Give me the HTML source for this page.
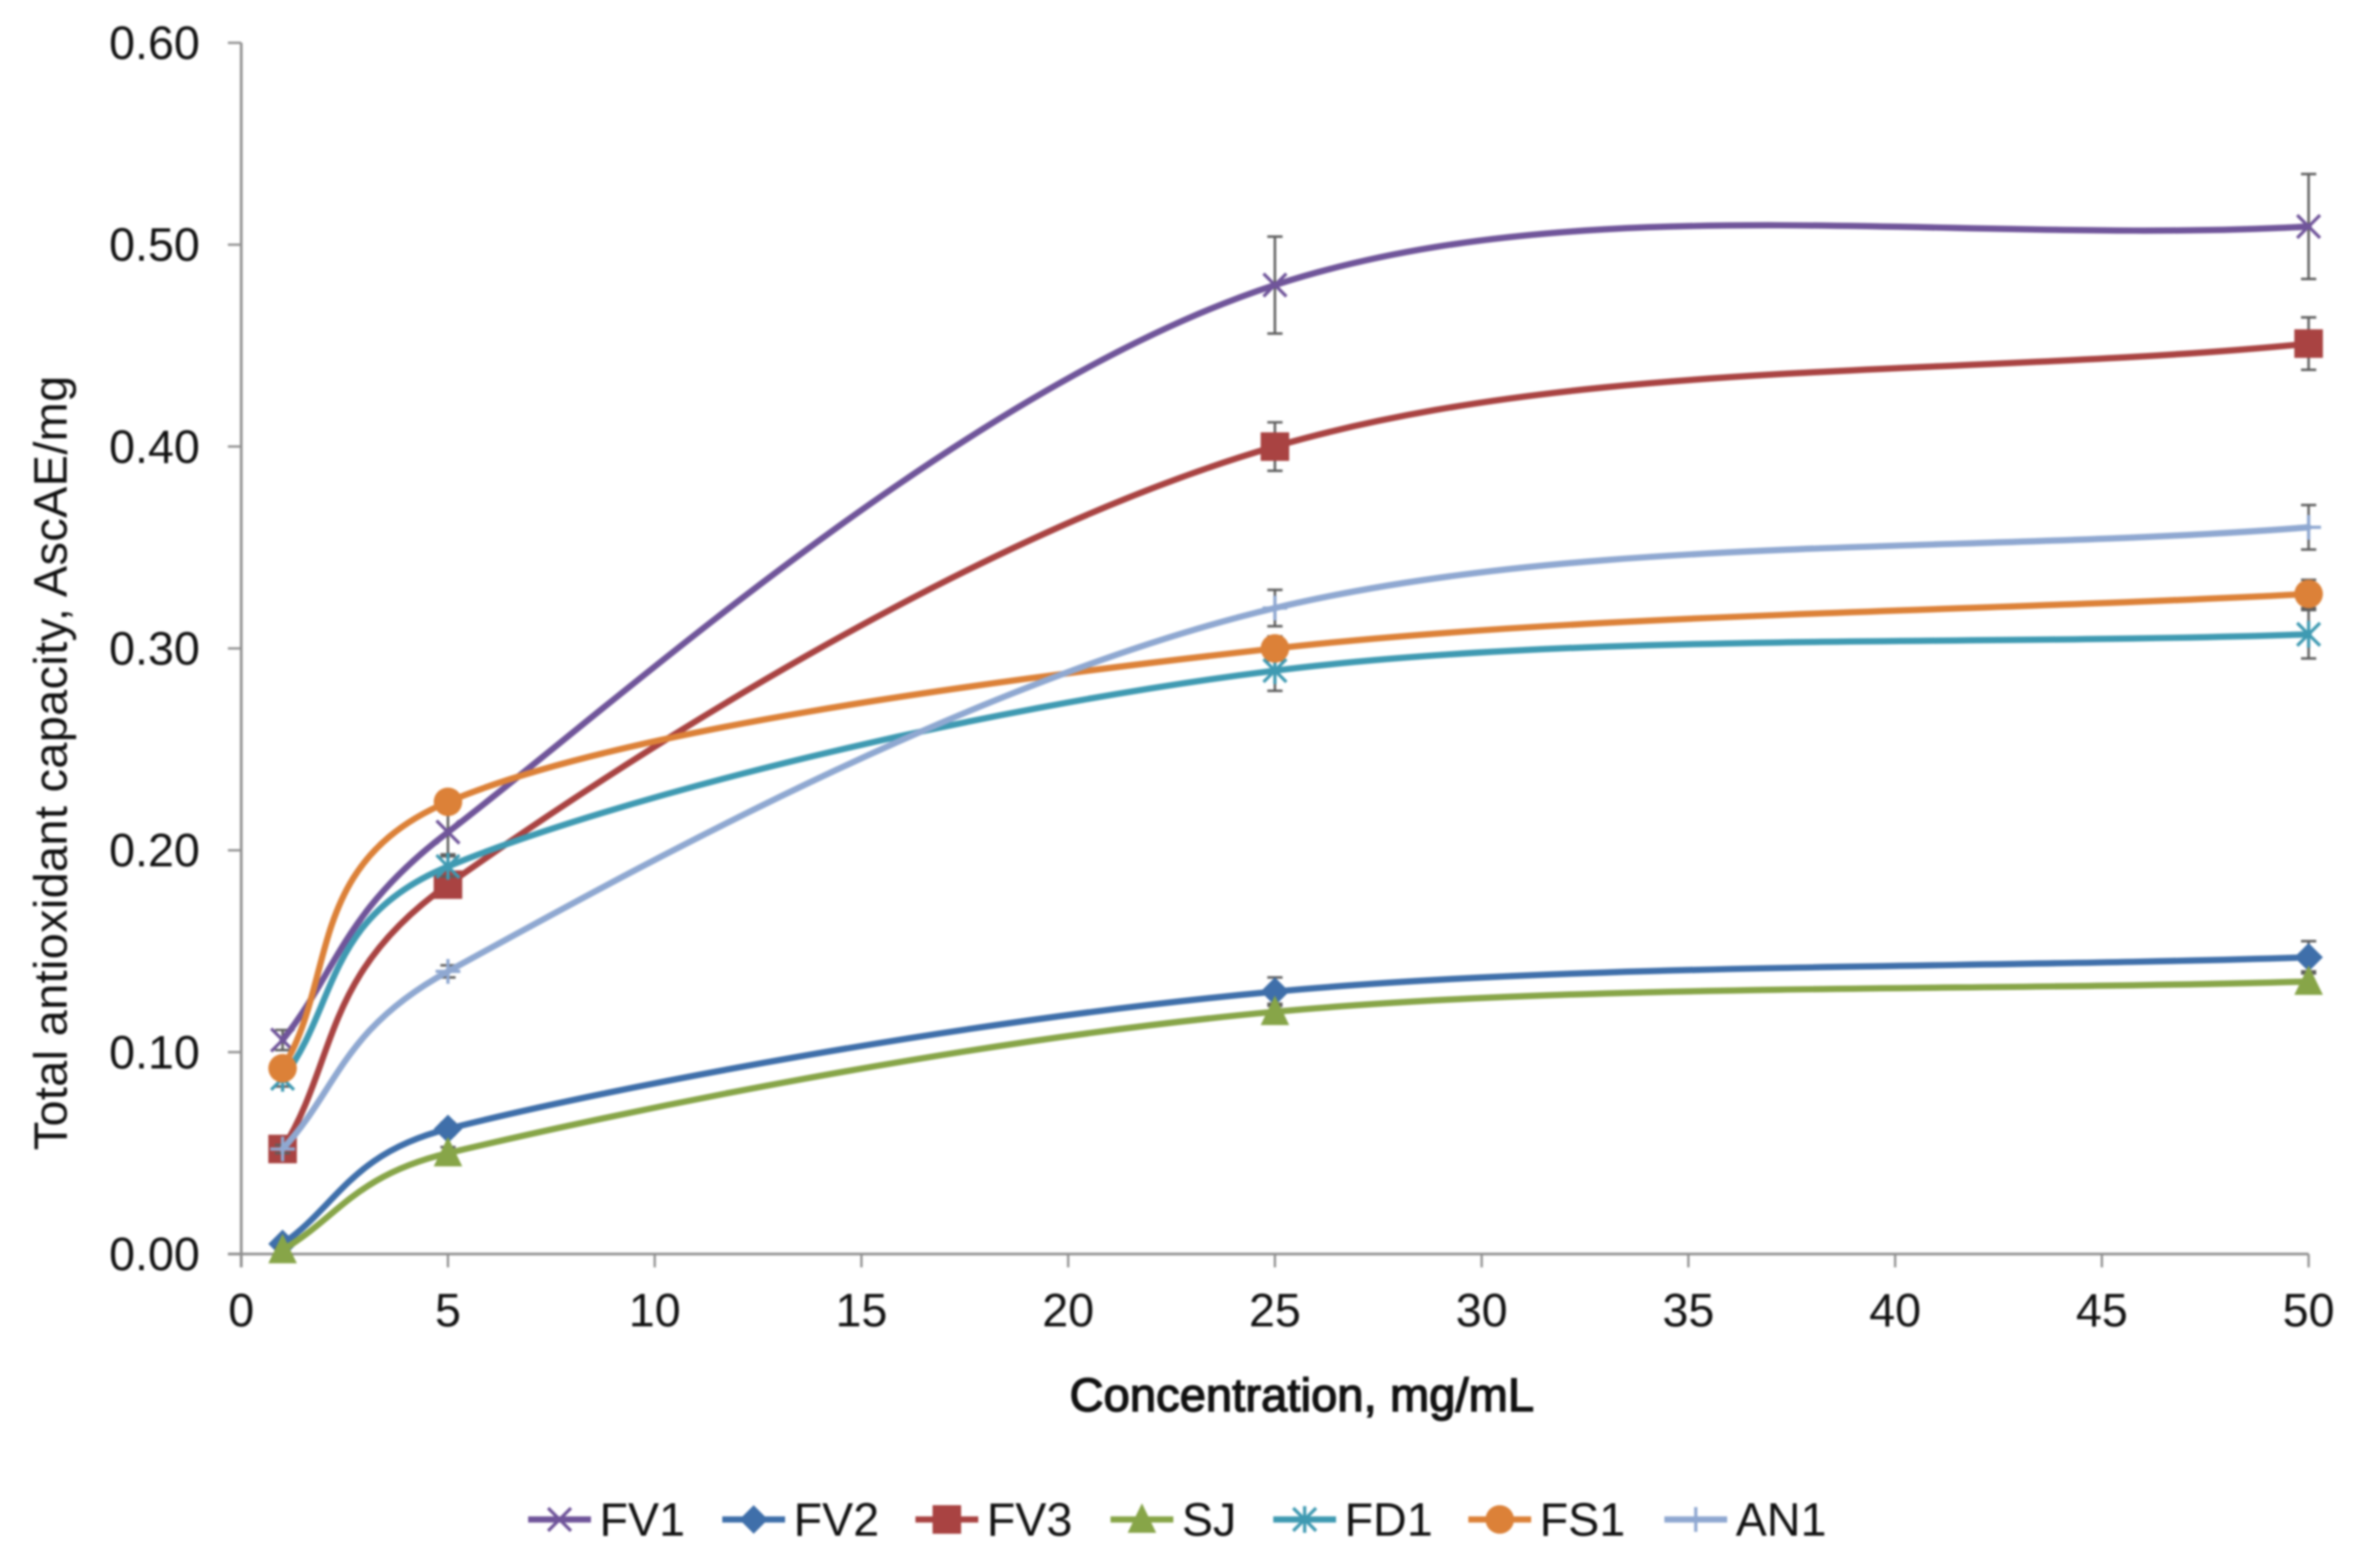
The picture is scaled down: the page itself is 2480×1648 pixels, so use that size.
<!DOCTYPE html>
<html>
<head>
<meta charset="utf-8">
<title>Total antioxidant capacity chart</title>
<style>
html,body{margin:0;padding:0;background:#fff;width:2480px;height:1648px;overflow:hidden}
svg{display:block;filter:blur(1px)}
text{font-family:"Liberation Sans",sans-serif;fill:#111}
</style>
</head>
<body>
<svg id="chart" xmlns="http://www.w3.org/2000/svg" width="2480" height="1648" viewBox="0 0 2480 1648">
<rect x="0" y="0" width="2480" height="1648" fill="#ffffff"/>
<text x="1368" y="1483" font-size="49.3" stroke="#111" stroke-width="1.5" text-anchor="middle" textLength="488">Concentration, mg/mL</text>
<text transform="translate(70,802) rotate(-90)" font-size="49.3" text-anchor="middle" textLength="814">Total antioxidant capacity, AscAE/mg</text>
</svg>
<script>
const concentrations = [1, 5, 25, 50];
const seriesNames = ['FV1', 'FV2', 'FV3', 'SJ', 'FD1', 'FS1', 'AN1'];
const valuesFV1 = [0.106, 0.209, 0.480, 0.509];
const valuesFV2 = [0.005, 0.062, 0.130, 0.147];
const valuesFV3 = [0.052, 0.183, 0.400, 0.451];
const valuesSJ = [0.002, 0.050, 0.120, 0.135];
const valuesFD1 = [0.087, 0.192, 0.289, 0.307];
const valuesFS1 = [0.092, 0.224, 0.300, 0.327];
const valuesAN1 = [0.052, 0.140, 0.320, 0.360];
const errorsFV1 = [0.005, 0.011, 0.024, 0.026];
const errorsFV2 = [0.002, 0.003, 0.007, 0.008];
const errorsFV3 = [0.004, 0.006, 0.012, 0.013];
const errorsSJ = [0.001, 0.003, 0.004, 0.005];
const errorsFD1 = [0.004, 0.005, 0.010, 0.012];
const errorsFS1 = [0.004, 0.004, 0.006, 0.007];
const errorsAN1 = [0.002, 0.003, 0.009, 0.011];
const xTickValues = [0, 5, 10, 15, 20, 25, 30, 35, 40, 45, 50];
const yTickValues = [0, 0.1, 0.2, 0.3, 0.4, 0.5, 0.6];

const svg = document.getElementById('chart');
const NS = 'http://www.w3.org/2000/svg';
const X0 = 253.5, X1 = 2426, Y0 = 1318, Y1 = 45;
const XMAX = 50, YMAX = 0.6;
const AXIS = '#8f8f8f', ERR = '#5e5e5e';

function xScale(v) { return X0 + (v / XMAX) * (X1 - X0); }
function yScale(v) { return Y0 - (v / YMAX) * (Y0 - Y1); }
function mk(tag, parent) {
  const e = document.createElementNS(NS, tag);
  parent.appendChild(e);
  return e;
}
function put(e, attrs) {
  for (const k in attrs) e.setAttribute(k, attrs[k]);
  return e;
}

const colorOf = { FV1: '#70559a', FV2: '#3f6faa', FV3: '#a94342', SJ: '#87a548', FD1: '#3f9ab2', FS1: '#dc8138', AN1: '#8fa8d1' };
const markerOf = { FV1: 'x', FV2: 'diamond', FV3: 'square', SJ: 'triangle', FD1: 'star', FS1: 'circle', AN1: 'plus' };
const valuesOf = { FV1: valuesFV1, FV2: valuesFV2, FV3: valuesFV3, SJ: valuesSJ, FD1: valuesFD1, FS1: valuesFS1, AN1: valuesAN1 };
const errorsOf = { FV1: errorsFV1, FV2: errorsFV2, FV3: errorsFV3, SJ: errorsSJ, FD1: errorsFD1, FS1: errorsFS1, AN1: errorsAN1 };

function drawMarker(parent, kind, cx, cy, color) {
  const r = 15;
  const g = mk('g', parent);
  
  
  const shape = (d, filled) => put(mk('path', g), filled
    ? { d: d, fill: color }
    : { d: d, fill: 'none', stroke: color, 'stroke-width': 3.4 });
  if (kind === 'square') shape(`M${cx - r} ${cy - r}h${2 * r}v${2 * r}h${-2 * r}z`, true);
  if (kind === 'diamond') shape(`M${cx} ${cy - r}L${cx + r} ${cy}L${cx} ${cy + r}L${cx - r} ${cy}z`, true);
  if (kind === 'triangle') shape(`M${cx} ${cy - r - 2}L${cx + r} ${cy + r - 1}L${cx - r} ${cy + r - 1}z`, true);
  if (kind === 'circle') put(mk('circle', g), { cx: cx, cy: cy, r: r, fill: color });
  if (kind === 'x') shape(`M${cx - 12} ${cy - 12}L${cx + 12} ${cy + 12}M${cx + 12} ${cy - 12}L${cx - 12} ${cy + 12}`, false);
  if (kind === 'star') shape(`M${cx - 12} ${cy - 12}L${cx + 12} ${cy + 12}M${cx + 12} ${cy - 12}L${cx - 12} ${cy + 12}M${cx} ${cy - 14}V${cy + 14}`, false);
  if (kind === 'plus') shape(`M${cx - 13} ${cy}H${cx + 13}M${cx} ${cy - 13}V${cy + 13}`, false);
}

function dist(a, b) { return Math.hypot(a[0] - b[0], a[1] - b[1]); }
// Spreadsheet-style smoothing: 1/6 tangents, 1/3 at ends, capped to half the chord
function smoothPath(pts) {
  let d = `M${pts[0][0]} ${pts[0][1]}`;
  for (let i = 0; i < pts.length - 1; i++) {
    const p0 = pts[Math.max(i - 1, 0)], p1 = pts[i], p2 = pts[i + 1], p3 = pts[Math.min(i + 2, pts.length - 1)];
    const d02 = dist(p0, p2), d12 = dist(p1, p2), d13 = dist(p1, p3);
    let f1 = i === 0 ? 1 / 3 : 1 / 6;
    let f2 = i === pts.length - 2 ? 1 / 3 : 1 / 6;
    if (d02 * f1 > d12 / 2) f1 = d12 / (2 * d02);
    if (d13 * f2 > d12 / 2) f2 = d12 / (2 * d13);
    const c1x = p1[0] + (p2[0] - p0[0]) * f1, c1y = p1[1] + (p2[1] - p0[1]) * f1;
    const c2x = p2[0] - (p3[0] - p1[0]) * f2, c2y = p2[1] - (p3[1] - p1[1]) * f2;
    d += `C${c1x} ${c1y} ${c2x} ${c2y} ${p2[0]} ${p2[1]}`;
  }
  return d;
}

// axes
const yAxis = mk('line', svg);


put(yAxis, { x1: X0, x2: X0, y1: Y1, y2: Y0 + 14, stroke: AXIS, 'stroke-width': 2.8 });
const xAxis = mk('line', svg);


put(xAxis, { x1: X0 - 14, x2: X1, y1: Y0, y2: Y0, stroke: AXIS, 'stroke-width': 2.8 });

yTickValues.forEach(v => {
  const t = mk('line', svg);
  
  
  put(t, { x1: X0 - 14, x2: X0, y1: yScale(v), y2: yScale(v), stroke: AXIS, 'stroke-width': 2.4 });
  const l = mk('text', svg);
  
  
  put(l, { x: 210, y: yScale(v) + 17, 'font-size': 49, 'text-anchor': 'end' });
  l.textContent = v.toFixed(2);
});
xTickValues.forEach(v => {
  const t = mk('line', svg);
  
  
  put(t, { x1: xScale(v), x2: xScale(v), y1: Y0, y2: Y0 + 14, stroke: AXIS, 'stroke-width': 2.4 });
  const l = mk('text', svg);
  
  
  put(l, { x: xScale(v), y: 1394, 'font-size': 49, 'text-anchor': 'middle' });
  l.textContent = String(v);
});

// series
seriesNames.forEach(name => {
  const color = colorOf[name];
  const vals = valuesOf[name];
  const errs = errorsOf[name];
  const g = mk('g', svg);
  
  
  g.setAttribute('data-series', name);
  const pts = concentrations.map((c, i) => [xScale(c), yScale(vals[i])]);
  concentrations.forEach((c, i) => {
    const px = xScale(c), top = yScale(vals[i] + errs[i]), bot = yScale(vals[i] - errs[i]);
    const bar = mk('path', g);
    
    
    put(bar, { d: `M${px} ${top}V${bot}M${px - 8} ${top}H${px + 8}M${px - 8} ${bot}H${px + 8}`, fill: 'none', stroke: ERR, 'stroke-width': 2.6 });
  });
  const line = mk('path', g);
  
  
  put(line, { d: smoothPath(pts), fill: 'none', stroke: color, 'stroke-width': 6.6, 'stroke-linecap': 'round' });
  pts.forEach(p => drawMarker(g, markerOf[name], p[0], p[1], color));
});

// legend
const legendLineStarts = [555, 759, 962, 1167, 1338, 1543, 1749];
const legendY = 1597;
seriesNames.forEach((name, i) => {
  const color = colorOf[name];
  const g = mk('g', svg);
  
  
  const sx = legendLineStarts[i];
  const l = mk('line', g);
  
  
  put(l, { x1: sx, x2: sx + 66, y1: legendY, y2: legendY, stroke: color, 'stroke-width': 6.6 });
  drawMarker(g, markerOf[name], sx + 33, legendY, color);
  const t = mk('text', g);
  
  
  put(t, { x: sx + 75, y: legendY + 17, 'font-size': 49 });
  t.textContent = name;
});
</script>
</body>
</html>
